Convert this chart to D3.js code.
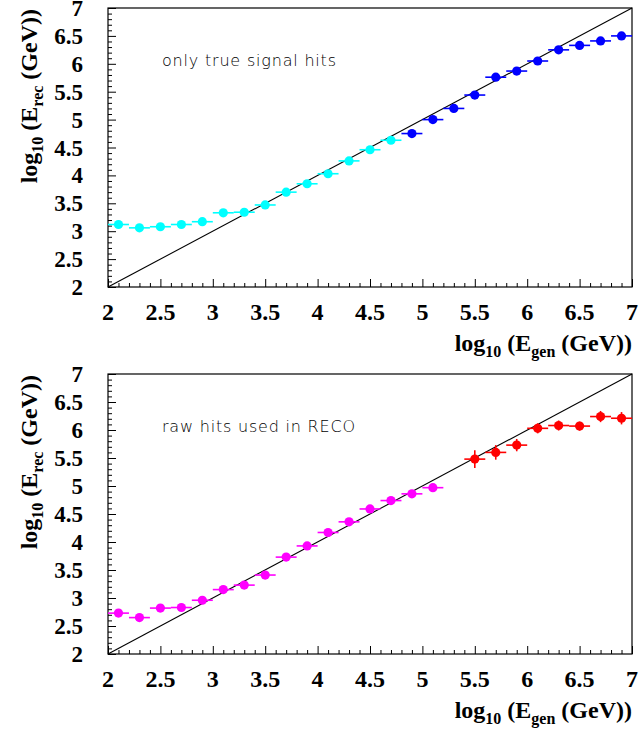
<!DOCTYPE html>
<html><head><meta charset="utf-8">
<script src="https://cdn.jsdelivr.net/npm/d3@7"></script>
<style>
html,body{margin:0;padding:0;background:#fff;}
svg{display:block;}
</style></head>
<body>
<script>
// ---------- DATA ----------
const xTickValues = [2, 2.5, 3, 3.5, 4, 4.5, 5, 5.5, 6, 6.5, 7];
const xTickLabels = ["2", "2.5", "3", "3.5", "4", "4.5", "5", "5.5", "6", "6.5", "7"];
const yTickValues = [2, 2.5, 3, 3.5, 4, 4.5, 5, 5.5, 6, 6.5, 7];
const yTickLabels = ["2", "2.5", "3", "3.5", "4", "4.5", "5", "5.5", "6", "6.5", "7"];
const binHalfWidth = 0.1;

// top panel: only true signal hits
const topCyanX = [2.1, 2.3, 2.5, 2.7, 2.9, 3.1, 3.3, 3.5, 3.7, 3.9, 4.1, 4.3, 4.5, 4.7];
const topCyanY = [3.12, 3.06, 3.08, 3.12, 3.17, 3.33, 3.34, 3.47, 3.70, 3.85, 4.03, 4.26, 4.46, 4.63];
const topBlueX = [4.9, 5.1, 5.3, 5.5, 5.7, 5.9, 6.1, 6.3, 6.5, 6.7, 6.9];
const topBlueY = [4.75, 5.00, 5.20, 5.44, 5.76, 5.87, 6.05, 6.25, 6.33, 6.41, 6.50];

// bottom panel: raw hits used in RECO
const botMagentaX = [2.1, 2.3, 2.5, 2.7, 2.9, 3.1, 3.3, 3.5, 3.7, 3.9, 4.1, 4.3, 4.5, 4.7, 4.9, 5.1];
const botMagentaY = [2.73, 2.65, 2.82, 2.83, 2.96, 3.15, 3.23, 3.41, 3.73, 3.93, 4.17, 4.36, 4.59, 4.74, 4.86, 4.97];
const botRedX = [5.5, 5.7, 5.9, 6.1, 6.3, 6.5, 6.7, 6.9];
const botRedY = [5.48, 5.60, 5.73, 6.03, 6.08, 6.07, 6.24, 6.21];
const botRedErr = [0.16, 0.13, 0.11, 0.09, 0.09, 0.08, 0.10, 0.11];

const panels = [
  {top: 8, bottom: 287, label: "only true signal hits", labelWidth: 174,
   series: [
     {x: topCyanX, y: topCyanY, err: null, color: "#00ffff"},
     {x: topBlueX, y: topBlueY, err: null, color: "#0000ff"}
   ]},
  {top: 374, bottom: 654, label: "raw hits used in RECO", labelWidth: 193,
   series: [
     {x: botMagentaX, y: botMagentaY, err: null, color: "#ff00ff"},
     {x: botRedX, y: botRedY, err: botRedErr, color: "#ff0000"}
   ]}
];

// ---------- DRAW ----------
const W = 639, H = 729;
const left = 108, right = 632;
const svg = d3.select("body").append("svg").attr("width", W).attr("height", H);

const serif = "'Liberation Serif','Times New Roman',serif";
const isMajor = d => Math.abs(d * 2 - Math.round(d * 2)) < 1e-6;

panels.forEach(p => {
  const x = d3.scaleLinear().domain([2, 7]).range([left, right]);
  const y = d3.scaleLinear().domain([2, 7]).range([p.bottom, p.top]);
  const g = svg.append("g");

  // frame
  g.append("rect").attr("x", left).attr("y", p.top)
    .attr("width", right - left).attr("height", p.bottom - p.top)
    .attr("fill", "none").attr("stroke", "#000").attr("stroke-width", 1.2);

  // ticks (inward)
  const minor = d3.range(20, 71).map(v => v / 10);
  const xg = g.append("g").attr("transform", `translate(0,${p.bottom})`)
    .call(d3.axisBottom(x).tickValues(minor).tickSize(0).tickFormat(""));
  xg.select(".domain").remove();
  xg.selectAll(".tick").each(function (d) {
    d3.select(this).select("line").attr("y2", isMajor(d) ? -8 : -4).attr("stroke", "#000");
  });

  const yg = g.append("g").attr("transform", `translate(${left},0)`)
    .call(d3.axisLeft(y).tickValues(minor).tickSize(0).tickFormat(""));
  yg.select(".domain").remove();
  yg.selectAll(".tick").each(function (d) {
    d3.select(this).select("line").attr("x2", isMajor(d) ? 8 : 4).attr("stroke", "#000");
  });

  // tick labels
  g.selectAll(".xl").data(xTickValues).join("text")
    .attr("x", d => x(d)).attr("y", p.bottom + 33)
    .attr("text-anchor", "middle")
    .attr("font-family", serif).attr("font-weight", "bold").attr("font-size", 24)
    .text((d, i) => xTickLabels[i]);
  g.selectAll(".yl").data(yTickValues).join("text")
    .attr("x", 83).attr("y", d => y(d) + 8)
    .attr("text-anchor", "end")
    .attr("font-family", serif).attr("font-weight", "bold").attr("font-size", 23)
    .text((d, i) => yTickLabels[i]);

  // x title
  const xt = g.append("text").attr("x", right).attr("y", p.bottom + 64)
    .attr("text-anchor", "end")
    .attr("font-family", serif).attr("font-weight", "bold").attr("font-size", 24);
  xt.append("tspan").text("log");
  xt.append("tspan").attr("font-size", 16).attr("dy", 6).text("10");
  xt.append("tspan").attr("dy", -6).text(" (E");
  xt.append("tspan").attr("font-size", 16).attr("dy", 6).text("gen");
  xt.append("tspan").attr("dy", -6).text(" (GeV))");

  // y title
  const yt = g.append("text")
    .attr("transform", `translate(37,${p.top + 1}) rotate(-90)`)
    .attr("text-anchor", "end")
    .attr("font-family", serif).attr("font-weight", "bold").attr("font-size", 24);
  yt.append("tspan").text("log");
  yt.append("tspan").attr("font-size", 16).attr("dy", 6).text("10");
  yt.append("tspan").attr("dy", -6).text(" (E");
  yt.append("tspan").attr("font-size", 16).attr("dy", 6).text("rec");
  yt.append("tspan").attr("dy", -6).text(" (GeV))");

  // diagonal y = x
  g.append("line").attr("x1", x(2)).attr("y1", y(2)).attr("x2", x(7)).attr("y2", y(7))
    .attr("stroke", "#000").attr("stroke-width", 1.1);

  // annotation
  g.append("text").attr("x", 162).attr("y", p.top + 58)
    .attr("font-family", "'DejaVu Sans',sans-serif").attr("font-weight", 200)
    .attr("font-size", 16).attr("fill", "#000")
    .attr("textLength", p.labelWidth).attr("lengthAdjust", "spacing")
    .text(p.label);

  // series
  p.series.forEach(s => {
    const pts = s.x.map((xv, i) => ({x: xv, y: s.y[i], e: s.err ? s.err[i] : 0}));
    const sg = g.append("g");
    sg.selectAll(".hb").data(pts).join("line")
      .attr("x1", d => x(d.x - binHalfWidth)).attr("x2", d => x(d.x + binHalfWidth))
      .attr("y1", d => y(d.y)).attr("y2", d => y(d.y))
      .attr("stroke", s.color).attr("stroke-width", 1.6);
    sg.selectAll(".vb").data(pts.filter(d => d.e > 0)).join("line")
      .attr("x1", d => x(d.x)).attr("x2", d => x(d.x))
      .attr("y1", d => y(d.y - d.e)).attr("y2", d => y(d.y + d.e))
      .attr("stroke", s.color).attr("stroke-width", 1.6);
    sg.selectAll("circle").data(pts).join("circle")
      .attr("cx", d => x(d.x)).attr("cy", d => y(d.y)).attr("r", 4.6)
      .attr("fill", s.color);
  });
});
</script>
</body></html>
